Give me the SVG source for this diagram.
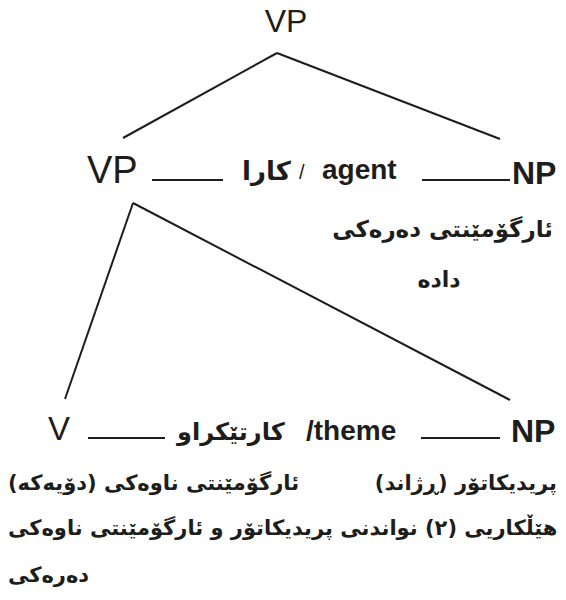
<svg xmlns="http://www.w3.org/2000/svg" width="566" height="600" viewBox="0 0 566 600">
  <style>
    .lat { font-family: "Liberation Sans", Arial, sans-serif; fill: #1d1d1b; }
    .lab { font-family: "Liberation Sans", Arial, sans-serif; fill: #1d1d1b; font-size: 28px; font-weight: bold; }
    .ku { font-family: "DejaVu Sans", "Noto Sans", sans-serif; font-weight: bold; fill: #1d1d1b; }
    .cap { font-size: 21px; }
    .edge { stroke: #1d1d1b; stroke-width: 2; fill: none; stroke-linecap: butt; }
  </style>
  <rect width="566" height="600" fill="#ffffff"/>

  <g id="connectors">
    <line class="edge" x1="277" y1="53" x2="123" y2="138"/>
    <line class="edge" x1="277" y1="53" x2="500" y2="139"/>
    <line class="edge" x1="133" y1="203" x2="65" y2="399"/>
    <line class="edge" x1="133" y1="203" x2="510" y2="400"/>
    <line class="edge" x1="152" y1="180" x2="223" y2="180"/>
    <line class="edge" x1="422" y1="180" x2="510" y2="180"/>
    <line class="edge" x1="88" y1="438" x2="165" y2="438"/>
    <line class="edge" x1="421" y1="438" x2="500" y2="438"/>
  </g>

  <g id="node-vp-top">
    <text class="lat" x="286" y="32" font-size="32" text-anchor="middle">VP</text>
  </g>

  <g id="node-vp-mid">
    <text class="lat" x="87" y="183" font-size="38">VP</text>
  </g>

  <g id="label-agent">
    <text class="ku" x="242" y="180" font-size="26">کارا</text>
    <text class="lat" x="299" y="179" font-size="20">/</text>
    <text class="lab" x="322" y="179">agent</text>
  </g>

  <g id="node-np-mid">
    <text class="lat" x="512" y="184" font-size="32" font-weight="bold">NP</text>
    <text class="ku" x="553" y="237" font-size="23" text-anchor="end">ئارگۆمێنتی دەرەکی</text>
    <text class="ku" x="439" y="287" font-size="22" text-anchor="middle">دادە</text>
  </g>

  <g id="node-v">
    <text class="lat" x="48" y="440" font-size="33">V</text>
  </g>

  <g id="label-theme">
    <text class="ku" x="177" y="440" font-size="24">کارتێکراو</text>
    <text class="lab" x="306" y="440">/theme</text>
  </g>

  <g id="node-np-bottom">
    <text class="lat" x="511" y="442" font-size="32" font-weight="bold">NP</text>
  </g>

  <g id="caption">
    <text class="ku cap" x="8" y="490">ئارگۆمێنتی ناوەکی (دۆیەکە)</text>
    <text class="ku cap" x="557" y="490" text-anchor="end">پریدیکاتۆر (ڕژاند)</text>
    <text class="ku cap" x="8" y="535">هێڵکاریی (٢) نواندنی پریدیکاتۆر و ئارگۆمێنتی ناوەکی</text>
    <text class="ku cap" x="8" y="582">دەرەکی</text>
  </g>
</svg>
